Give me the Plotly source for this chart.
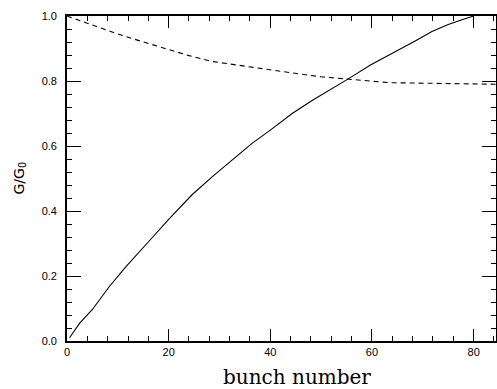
import plotly.graph_objects as go

# solid curve: G/G0 rising
solid_x = [0.5, 2.5, 5.0, 8.3, 11.6, 14.0, 16.3, 20.0, 24.6, 28.6, 32.5, 36.4, 40.0, 44.3,
           48.3, 52.0, 55.5, 59.7, 62.5, 65.3, 68.5, 71.8, 75.0, 78.0, 80.0]
solid_y = [0.01, 0.055, 0.097, 0.167, 0.229, 0.272, 0.31, 0.374, 0.45, 0.506, 0.557,
           0.608, 0.649, 0.70, 0.741, 0.775, 0.808, 0.849, 0.872, 0.895, 0.923, 0.952,
           0.974, 0.99, 1.0]

# dashed curve: G/G0 decreasing
dash_x = [0.0, 4.0, 9.6, 14.0, 20.0, 24.0, 28.6, 32.0, 35.2, 40.0, 45.6, 50.0, 55.5,
          60.0, 63.3, 67.0, 71.8, 78.0, 84.4]
dash_y = [1.0, 0.977, 0.947, 0.925, 0.898, 0.878, 0.86, 0.852, 0.845, 0.834, 0.822,
          0.813, 0.806, 0.799, 0.795, 0.794, 0.793, 0.791, 0.79]

x_tick_step = 20
y_tick_step = 0.2
y_tick_format = ".1f"

fig = go.Figure()
fig.add_trace(go.Scatter(x=solid_x, y=solid_y, mode="lines",
                         line=dict(color="black", width=1.1), showlegend=False))
fig.add_trace(go.Scatter(x=dash_x, y=dash_y, mode="lines",
                         line=dict(color="black", width=1.1, dash="5px,4px"),
                         showlegend=False))

fig.update_xaxes(range=[0, 84.4], tickmode="linear", tick0=0, dtick=x_tick_step,
                 showline=True, linecolor="black", linewidth=1.5, mirror="ticks",
                 ticks="inside", ticklen=12, tickwidth=1.2, tickcolor="black",
                 showgrid=False, zeroline=False,
                 minor=dict(dtick=4, ticks="inside", ticklen=5, tickcolor="black",
                            showgrid=False))
fig.update_yaxes(range=[0, 1.0], tickmode="linear", tick0=0, dtick=y_tick_step,
                 tickformat=y_tick_format, ticksuffix="\u00a0\u00a0",
                 showline=True, linecolor="black", linewidth=1.5, mirror="ticks",
                 ticks="inside", ticklen=14, tickwidth=1.2, tickcolor="black",
                 showgrid=False, zeroline=False,
                 minor=dict(dtick=0.04, ticks="inside", ticklen=5, tickcolor="black",
                            showgrid=False))

fig.add_annotation(text="bunch number", xref="paper", yref="paper",
                   x=(297 - 67) / 429, y=-(378 - 341.5) / 325.5,
                   showarrow=False, xanchor="center", yanchor="middle",
                   font=dict(family="DejaVu Serif, Liberation Serif", size=20, color="black"))
fig.add_annotation(text="G/G<sub>0</sub>", xref="paper", yref="paper",
                   x=-(67 - 19) / 429, y=0.5, textangle=-90,
                   showarrow=False, xanchor="center", yanchor="middle",
                   font=dict(family="DejaVu Sans, Liberation Sans", size=14, color="black"))

fig.update_layout(template="none", width=497, height=389,
                  font=dict(family="Liberation Sans, Arial", size=11, color="black"),
                  margin=dict(l=67, r=1, t=16, b=47.5))

fig.write_html("out.html")
